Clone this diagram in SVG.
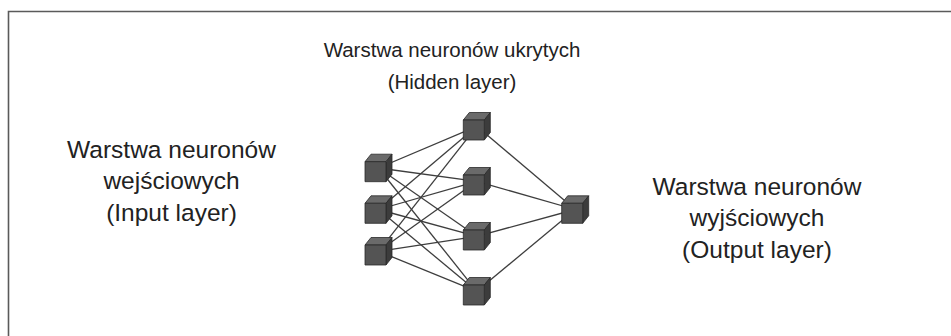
<svg xmlns="http://www.w3.org/2000/svg" width="951" height="336" viewBox="0 0 951 336">
  <style>
    .label { font-family: "Liberation Sans", Arial, sans-serif; fill: #222; text-anchor: middle; }
    .title { font-size: 20.5px; }
    .side-label { font-size: 24.5px; }
    .link { stroke: #3e3e3e; stroke-width: 1.3; fill: none; }
    .front { fill: #545454; }
    .top { fill: #6a6a6a; }
    .side { fill: #3c3c3c; }
    .edge { stroke: #2a2a2a; stroke-width: 0.8; stroke-linejoin: round; }
  </style>
  <defs>
    <!-- a small 3D cube; origin is the top-left corner of its front face -->
    <g id="cube">
      <polygon class="top edge" points="0,0 6,-7.5 27,-7.5 21,0"/>
      <polygon class="side edge" points="21,0 27,-7.5 27,12.5 21,20"/>
      <rect class="front edge" x="0" y="0" width="21" height="20"/>
    </g>
  </defs>

  <rect x="0" y="0" width="951" height="336" fill="#fff"/>
  <!-- frame: left and top border -->
  <polyline points="8.5,336 8.5,11.5 951,11.5" fill="none" stroke="#5a5a5a" stroke-width="1.6"/>

  <!-- titles -->
  <g id="hidden-title">
    <text class="label title" x="452" y="57">Warstwa neuronów ukrytych</text>
    <text class="label title" x="452" y="89">(Hidden layer)</text>
  </g>
  <g id="input-title">
    <text class="label side-label" x="171.5" y="158">Warstwa neuronów</text>
    <text class="label side-label" x="171.5" y="189">wejściowych</text>
    <text class="label side-label" x="171.5" y="221">(Input layer)</text>
  </g>
  <g id="output-title">
    <text class="label side-label" x="757" y="195">Warstwa neuronów</text>
    <text class="label side-label" x="757" y="226">wyjściowych</text>
    <text class="label side-label" x="757" y="258">(Output layer)</text>
  </g>

  <!-- connections between layers -->
  <g id="connectors">
    <line class="link" x1="378.5" y1="168" x2="476.8" y2="126.3"/>
    <line class="link" x1="378.5" y1="168" x2="476.8" y2="181.3"/>
    <line class="link" x1="378.5" y1="168" x2="476.8" y2="236.3"/>
    <line class="link" x1="378.5" y1="168" x2="476.8" y2="291.3"/>
    <line class="link" x1="378.5" y1="209.5" x2="476.8" y2="126.3"/>
    <line class="link" x1="378.5" y1="209.5" x2="476.8" y2="181.3"/>
    <line class="link" x1="378.5" y1="209.5" x2="476.8" y2="236.3"/>
    <line class="link" x1="378.5" y1="209.5" x2="476.8" y2="291.3"/>
    <line class="link" x1="378.5" y1="251.3" x2="476.8" y2="126.3"/>
    <line class="link" x1="378.5" y1="251.3" x2="476.8" y2="181.3"/>
    <line class="link" x1="378.5" y1="251.3" x2="476.8" y2="236.3"/>
    <line class="link" x1="378.5" y1="251.3" x2="476.8" y2="291.3"/>
    <line class="link" x1="476.8" y1="126.3" x2="575.2" y2="209.5"/>
    <line class="link" x1="476.8" y1="181.3" x2="575.2" y2="209.5"/>
    <line class="link" x1="476.8" y1="236.3" x2="575.2" y2="209.5"/>
    <line class="link" x1="476.8" y1="291.3" x2="575.2" y2="209.5"/>
  </g>

  <!-- input layer -->
  <g id="in1"><use href="#cube" x="365" y="161.7"/></g>
  <g id="in2"><use href="#cube" x="365" y="203.3"/></g>
  <g id="in3"><use href="#cube" x="365" y="245"/></g>
  <!-- hidden layer -->
  <g id="h1"><use href="#cube" x="463.3" y="120"/></g>
  <g id="h2"><use href="#cube" x="463.3" y="175"/></g>
  <g id="h3"><use href="#cube" x="463.3" y="230"/></g>
  <g id="h4"><use href="#cube" x="463.3" y="285"/></g>
  <!-- output layer -->
  <g id="out1"><use href="#cube" x="561.7" y="203.3"/></g>
</svg>
